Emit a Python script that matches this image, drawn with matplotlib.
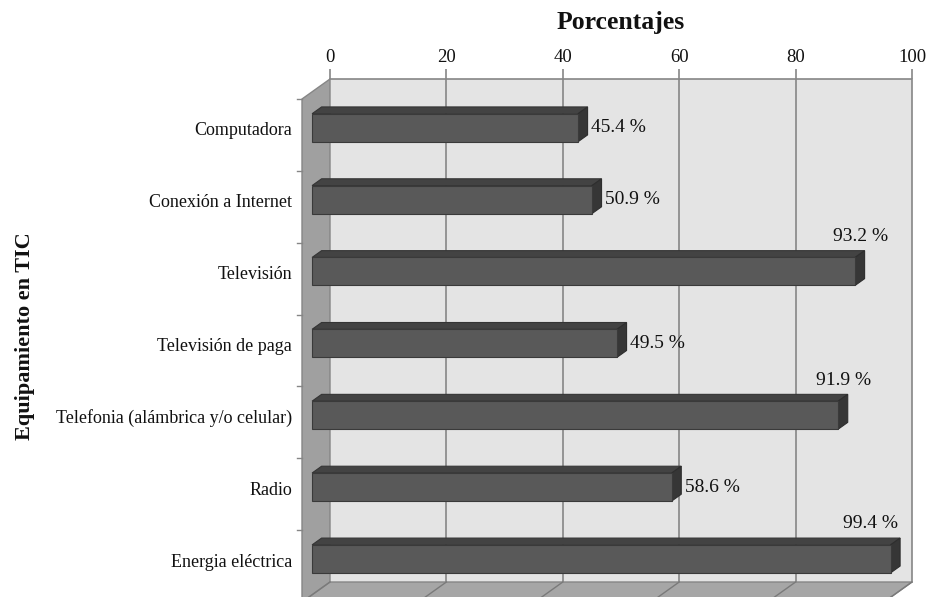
import matplotlib.pyplot as plt
from matplotlib.patches import Polygon, Rectangle

# Data
categories = ["Computadora", "Conexión a Internet", "Televisión",
              "Televisión de paga", "Telefonia (alámbrica y/o celular)",
              "Radio", "Energia eléctrica"]
# printed labels
values = [45.4, 50.9, 93.2, 49.5, 91.9, 58.6, 99.4]
# bar lengths as drawn in the original chart (they differ a little from the labels)
bar_lengths = [45.7, 48.1, 93.3, 52.4, 90.4, 61.8, 99.4]
xticks = [0, 20, 40, 60, 80, 100]

plt.rcParams["font.family"] = ["Liberation Serif", "DejaVu Serif"]

W, H = 929, 597
fig = plt.figure(figsize=(W / 100, H / 100), dpi=100)

# back wall in pixels
wl, wr, wt, wb = 330, 912, 79, 582
ax = fig.add_axes([wl / W, (H - wb) / H, (wr - wl) / W, (wb - wt) / H])
n = len(categories)
ax.set_xlim(0, 100)
ax.set_ylim(n - 0.5, -0.5)

# pixel -> data conversion
px_x = 100 / (wr - wl)
px_y = n / (wb - wt)
DX, DY = -28 * px_x, 20 * px_y  # depth vector (toward viewer)


def sh(x, y, t):
    return (x + t * DX, y + t * DY)


wall_col = "#e4e4e4"
side_col = "#a0a0a0"
edge_col = "#868686"

ax.set_facecolor(wall_col)
for s in ax.spines.values():
    s.set_visible(False)
ax.plot([0, 100, 100], [-0.5, -0.5, n - 0.5], color=edge_col, lw=1.2,
        clip_on=False, zorder=1)

# gridlines on back wall
for xt in xticks[1:-1]:
    ax.plot([xt, xt], [-0.5, n - 0.5], color=edge_col, lw=1.2, zorder=1)

# left side wall
ytop, ybot = -0.5, n - 0.5 + 1.0
left_wall = Polygon([(0, ytop), (0, ybot), sh(0, ybot, 1), sh(0, ytop, 1)],
                    closed=True, facecolor=side_col, edgecolor=edge_col,
                    lw=1.0, clip_on=False, zorder=2)
ax.add_patch(left_wall)

# floor
yf = n - 0.5
floor = Polygon([(0, yf), (100, yf), sh(100, yf, 1.5), sh(0, yf, 1.5)],
                closed=True, facecolor="#a6a6a6", edgecolor=edge_col,
                lw=1.0, clip_on=False, zorder=2)
ax.add_patch(floor)
for xt in xticks:
    p0, p1 = (xt, yf), sh(xt, yf, 1.5)
    ax.plot([p0[0], p1[0]], [p0[1], p1[1]], color="#7a7a7a", lw=1.0,
            clip_on=False, zorder=3)

# category separator ticks on the front edge of the side wall
for k in range(n + 1):
    fx, fy = sh(0, k - 0.5, 1)
    ax.plot([fx - 5 * px_x, fx], [fy, fy], color=edge_col, lw=1.0,
            clip_on=False, zorder=3)

# bars
tf, tb = 0.64, 0.3
h = 28 * px_y
for i, (cat, v, b) in enumerate(zip(categories, values, bar_lengths)):
    y0 = i - h / 2
    y1 = i + h / 2
    top = Polygon([sh(0, y0, tf), sh(b, y0, tf), sh(b, y0, tb), sh(0, y0, tb)],
                  closed=True, facecolor="#434343", edgecolor="#353535",
                  lw=0.8, clip_on=False, zorder=4)
    end = Polygon([sh(b, y0, tf), sh(b, y1, tf), sh(b, y1, tb), sh(b, y0, tb)],
                  closed=True, facecolor="#363636", edgecolor="#2e2e2e",
                  lw=0.8, clip_on=False, zorder=4)
    fx, fy = sh(0, y0, tf)
    front = Rectangle((fx, fy), b, h, facecolor="#595959",
                      edgecolor="#3a3a3a", lw=0.8, clip_on=False, zorder=5)
    ax.add_patch(top)
    ax.add_patch(end)
    ax.add_patch(front)

    # value label
    lbl = f"{v:.1f} %"
    if b > 85:
        lx, ly = sh(min(b + 1, 96), y0 - 21 * px_y, tf)
        ax.text(lx, ly, lbl, ha="center", va="center", fontsize=14,
                color="#111111", zorder=6)
    else:
        lx, ly = sh(b, i, tf)
        ax.text(lx + 13 * px_x, ly, lbl, ha="left", va="center",
                fontsize=14, color="#111111", zorder=6)

    # category label
    cx, cy = sh(0, i, 1)
    ax.text(cx - 10 * px_x, cy - 4 * px_y, cat, ha="right", va="center",
            fontsize=13, color="#111111")

ax.set_yticks([])
ax.xaxis.tick_top()
ax.set_xticks(xticks)
ax.set_xticklabels([str(t) for t in xticks], fontsize=13.5, color="#111111")
ax.tick_params(axis="x", direction="out", length=7, width=1.2,
               color=edge_col, pad=2)

fig.text(621 / W, 1 - 22 / H, "Porcentajes", ha="center", va="center",
         fontsize=18.5, fontweight="bold", color="#111111")
fig.text(25 / W, 1 - 336 / H, "Equipamiento en TIC", ha="center",
         va="center", rotation=90, fontsize=16, fontweight="bold",
         color="#111111")

fig.savefig("out.png", dpi=100)
